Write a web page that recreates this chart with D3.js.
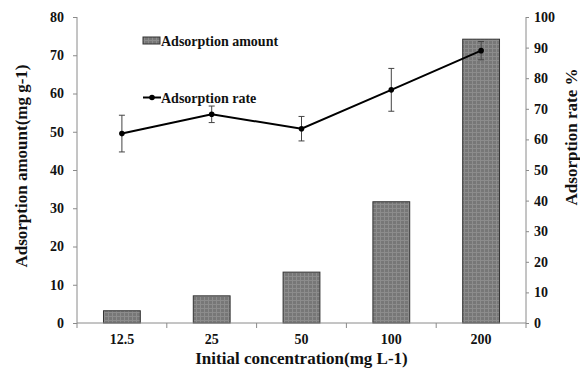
<!DOCTYPE html>
<html>
<head>
<meta charset="utf-8">
<script src="https://cdn.jsdelivr.net/npm/d3@7"></script>
<style>
    body { margin: 0; background: #fff; }
    text { font-family: "Liberation Serif", "Times New Roman", serif; font-weight: bold; }
</style>
</head>
<body>
<svg id="chart" width="580" height="369"></svg>
<script>
    'use strict';

    var categories = ['12.5', '25', '50', '100', '200'];
    var amountValues = [3.2, 7.1, 13.3, 31.7, 74.2];
    var rateValues = [61.9, 68.2, 63.5, 76.2, 89.0];
    var rateErrors = [6.0, 2.7, 4.0, 7.0, 3.0];
    var leftTicks = [0, 10, 20, 30, 40, 50, 60, 70, 80];
    var rightTicks = [0, 10, 20, 30, 40, 50, 60, 70, 80, 90, 100];

    var LEFT = 77, RIGHT = 526, TOP = 17, BOTTOM = 323;
    var AXIS_COLOR = '#8a8a8a';

    var svg = d3.select('#chart');

    // bar fill pattern
    var defs = svg.append('defs');
    var pattern = defs.append('pattern')
        .attr('id', 'barFill')
        .attr('patternUnits', 'userSpaceOnUse')
        .attr('width', 4)
        .attr('height', 4);
    pattern.append('rect').attr('width', 4).attr('height', 4).attr('fill', '#777');
    pattern.append('rect').attr('x', 0).attr('y', 0).attr('width', 1).attr('height', 4).attr('fill', '#8c8c8c');
    pattern.append('rect').attr('x', 0).attr('y', 0).attr('width', 4).attr('height', 1).attr('fill', '#8c8c8c');

    var x = d3.scaleBand().domain(categories).range([LEFT, RIGHT]).paddingInner(0).paddingOuter(0);
    var yLeft = d3.scaleLinear().domain([0, 80]).range([BOTTOM, TOP]);
    var yRight = d3.scaleLinear().domain([0, 100]).range([BOTTOM, TOP]);

    var barWidth = x.bandwidth() * 0.41;

    // bars
    svg.append('g').selectAll('rect')
        .data(amountValues)
        .enter()
        .append('rect')
        .attr('x', function (d, i) { return x(categories[i]) + (x.bandwidth() - barWidth) / 2; })
        .attr('y', function (d) { return yLeft(d); })
        .attr('width', barWidth)
        .attr('height', function (d) { return BOTTOM - yLeft(d); })
        .attr('fill', 'url(#barFill)')
        .attr('stroke', '#333')
        .attr('stroke-width', 1);

    // axes
    var leftAxis = svg.append('g')
        .attr('transform', 'translate(' + LEFT + ',0)')
        .call(d3.axisLeft(yLeft).tickValues(leftTicks).tickSize(4).tickPadding(9));
    var rightAxis = svg.append('g')
        .attr('transform', 'translate(' + RIGHT + ',0)')
        .call(d3.axisRight(yRight).tickValues(rightTicks).tickSize(3).tickPadding(5));
    var bottomAxis = svg.append('g')
        .attr('transform', 'translate(0,' + BOTTOM + ')')
        .call(d3.axisBottom(x).tickSize(0).tickPadding(11));

    [leftAxis, rightAxis, bottomAxis].forEach(function (g) {
        g.select('.domain').attr('stroke', AXIS_COLOR);
        g.selectAll('.tick line').attr('stroke', AXIS_COLOR);
        g.selectAll('.tick text')
            .attr('fill', '#111')
            .style('font-size', '14px')
            .style('font-family', '"Liberation Serif", serif')
            .style('font-weight', 'bold');
    });
    leftAxis.select('.domain').attr('d', 'M0,' + TOP + 'V' + BOTTOM);
    rightAxis.select('.domain').attr('d', 'M0,' + TOP + 'V' + BOTTOM);
    bottomAxis.select('.domain').attr('d', 'M' + LEFT + ',0H' + RIGHT);

    // category separator ticks on x axis
    var sepTicks = d3.range(categories.length + 1).map(function (i) { return LEFT + i * x.bandwidth(); });
    bottomAxis.selectAll('line.sep')
        .data(sepTicks)
        .enter()
        .append('line')
        .attr('class', 'sep')
        .attr('x1', function (d) { return d; })
        .attr('x2', function (d) { return d; })
        .attr('y1', 0)
        .attr('y2', 5)
        .attr('stroke', AXIS_COLOR);

    // rate line
    var cx = function (i) { return x(categories[i]) + x.bandwidth() / 2; };
    var line = d3.line()
        .x(function (d, i) { return cx(i); })
        .y(function (d) { return yRight(d); });

    var rateGroup = svg.append('g');
    rateGroup.append('path')
        .datum(rateValues)
        .attr('d', line)
        .attr('fill', 'none')
        .attr('stroke', '#000')
        .attr('stroke-width', 2);

    // error bars
    var errGroup = rateGroup.selectAll('g.err')
        .data(rateValues)
        .enter()
        .append('g')
        .attr('class', 'err');
    errGroup.append('line')
        .attr('x1', function (d, i) { return cx(i); })
        .attr('x2', function (d, i) { return cx(i); })
        .attr('y1', function (d, i) { return yRight(d + rateErrors[i]); })
        .attr('y2', function (d, i) { return yRight(d - rateErrors[i]); })
        .attr('stroke', '#444')
        .attr('stroke-width', 1);
    [1, -1].forEach(function (sign) {
        errGroup.append('line')
            .attr('x1', function (d, i) { return cx(i) - 3; })
            .attr('x2', function (d, i) { return cx(i) + 3; })
            .attr('y1', function (d, i) { return yRight(d + sign * rateErrors[i]); })
            .attr('y2', function (d, i) { return yRight(d + sign * rateErrors[i]); })
            .attr('stroke', '#444')
            .attr('stroke-width', 1);
    });
    errGroup.append('circle')
        .attr('cx', function (d, i) { return cx(i); })
        .attr('cy', function (d) { return yRight(d); })
        .attr('r', 2.8)
        .attr('fill', '#000');

    // legend
    var legend = svg.append('g');
    legend.append('rect')
        .attr('x', 143).attr('y', 37)
        .attr('width', 17).attr('height', 7)
        .attr('fill', 'url(#barFill)')
        .attr('stroke', '#333');
    legend.append('text')
        .attr('x', 161).attr('y', 45.5)
        .style('font-size', '14px')
        .attr('fill', '#111')
        .text('Adsorption amount');
    legend.append('line')
        .attr('x1', 143).attr('x2', 161)
        .attr('y1', 97.5).attr('y2', 97.5)
        .attr('stroke', '#000').attr('stroke-width', 2);
    legend.append('circle')
        .attr('cx', 152).attr('cy', 97.5).attr('r', 2.8).attr('fill', '#000');
    legend.append('text')
        .attr('x', 161).attr('y', 102.5)
        .style('font-size', '14px')
        .attr('fill', '#111')
        .text('Adsorption rate');

    // axis titles
    svg.append('text')
        .attr('transform', 'translate(27,166) rotate(-90)')
        .attr('text-anchor', 'middle')
        .style('font-size', '17px')
        .attr('fill', '#111')
        .text('Adsorption amount(mg g-1)');
    svg.append('text')
        .attr('transform', 'translate(577,137) rotate(-90)')
        .attr('text-anchor', 'middle')
        .style('font-size', '17px')
        .attr('fill', '#111')
        .text('Adsorption rate %');
    svg.append('text')
        .attr('x', (LEFT + RIGHT) / 2)
        .attr('y', 364)
        .attr('text-anchor', 'middle')
        .style('font-size', '17px')
        .attr('fill', '#111')
        .text('Initial concentration(mg L-1)');
</script>
</body>
</html>
